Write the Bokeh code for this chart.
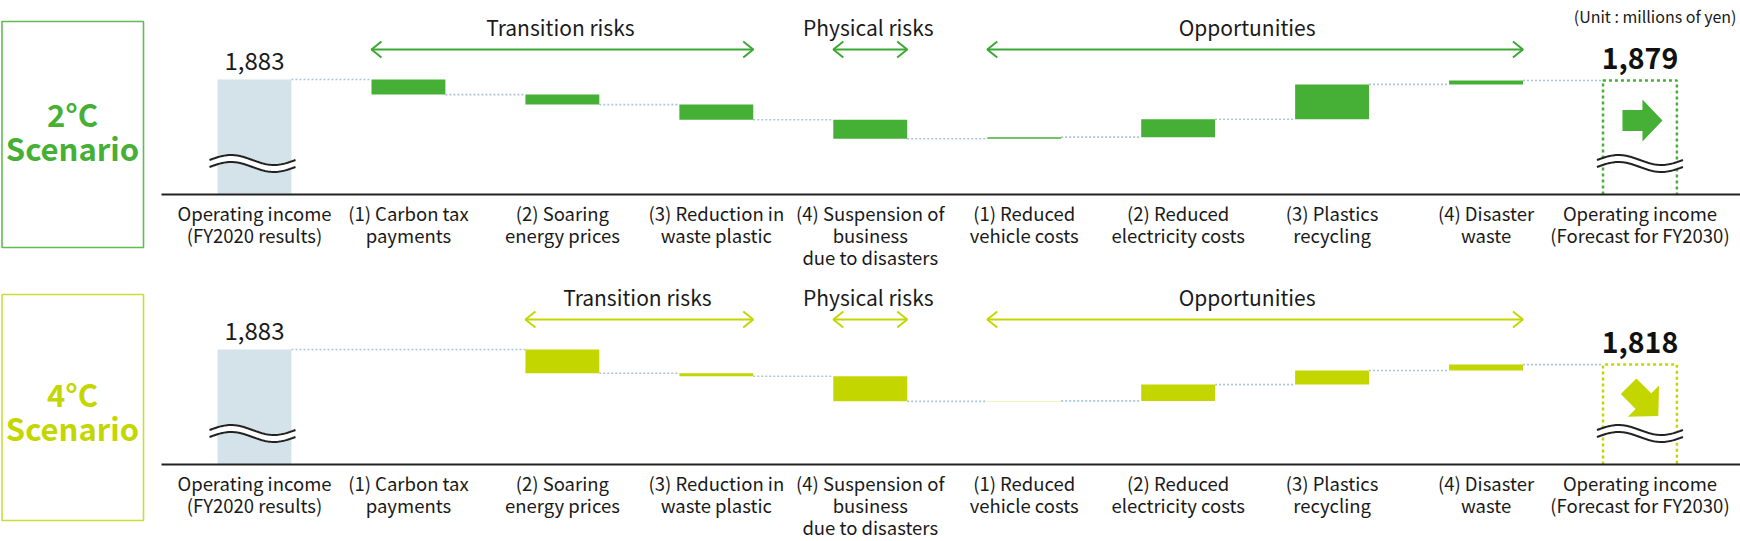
import numpy as np
from bokeh.plotting import figure
from bokeh.models import ColumnDataSource, Range1d
from bokeh.layouts import column
from bokeh.embed import file_html
from bokeh.resources import INLINE
from bokeh.core.properties import value

# ---------------- data ----------------
CATEGORIES = [
    "Operating income\n(FY2020 results)",
    "(1) Carbon tax\npayments",
    "(2) Soaring\nenergy prices",
    "(3) Reduction in\nwaste plastic",
    "(4) Suspension of\nbusiness\ndue to disasters",
    "(1) Reduced\nvehicle costs",
    "(2) Reduced\nelectricity costs",
    "(3) Plastics\nrecycling",
    "(4) Disaster\nwaste",
    "Operating income\n(Forecast for FY2030)",
]
START_VALUE = 1883
CHANGES_2C = [-65, -43, -65, -82, 7, 77, 150, 17]
CHANGES_4C = [0, -102, -13, -108, 2, 70, 61, 25]
FINAL_2C = 1879
FINAL_4C = 1818
GROUPS = [("Transition risks", 1, 3), ("Physical risks", 4, 4), ("Opportunities", 5, 8)]
SCENARIO_2C = ["2°C", "Scenario"]
SCENARIO_4C = ["4°C", "Scenario"]
UNIT_LABEL = "(Unit : millions of yen)"

# ---------------- style / layout ----------------
FONT = "Noto Sans CJK JP"
GREEN = "#45b035"
GREEN_LINE = "#3aa832"
GREEN_BOX = "#62bb55"
LIME = "#c4d600"
LIME_BOX = "#cbdc3a"
GRAY_BAR = "#d4e2ea"
CONNECT = "#a9c6de"
INK = "#1a1a1a"

W = 1740
H_TOP = 270
H_BOT = 271
PX_PER_CAT = 153.94      # pixels between category centres
X0_PX = 254              # pixel position of the first category centre
UPP = 4.3                # value units per pixel
BAR_W = 0.48
Y_TOP = START_VALUE + 79 * UPP   # value at the top edge of each panel


def X(px):
    return (px - X0_PX) / PX_PER_CAT


def Y(py):
    return Y_TOP - py * UPP


def dx(px):
    return px / PX_PER_CAT


def dy(px):
    return px * UPP


AXIS_Y = Y(194)


def add_wave(p, xc, yc):
    t = np.linspace(0, 1, 60)
    w = 86
    xs = xc + dx(-w / 2 + w * t)
    s = 5.0 * np.sin(2 * np.pi * t)
    up = yc + dy(3.5 + s)
    lo = yc + dy(-3.5 + s)
    p.patch(np.concatenate([xs, xs[::-1]]), np.concatenate([up + dy(1), lo[::-1] - dy(1)]),
            fill_color="white", line_color=None)
    p.line(xs, up, line_color="#222222", line_width=2)
    p.line(xs, lo, line_color="#222222", line_width=2)


def build_panel(height, changes, final, color, line_color, box_color, scen_lines, box_y, scen_y,
                show_unit, arrow_rot, arrow_scale, arrow_down_px, arrow_right_px):
    p = figure(width=W, height=height, x_range=Range1d(X(0), X(W)),
               y_range=Range1d(Y(height), Y(0)), toolbar_location=None, output_backend="svg",
               x_axis_location=None, y_axis_location=None, min_border=0)
    p.xgrid.visible = False
    p.ygrid.visible = False
    p.outline_line_color = None

    levels = [START_VALUE]
    for c in changes:
        levels.append(levels[-1] + c)
    n = len(CATEGORIES) - 1

    # connectors
    segs = []
    x0 = BAR_W / 2
    for i in range(1, len(CATEGORIES)):
        if 1 <= i <= len(changes) and changes[i - 1] == 0:
            continue
        segs.append((x0, i - BAR_W / 2, levels[i - 1]))
        x0 = i + BAR_W / 2
    p.segment(x0=[s[0] for s in segs], x1=[s[1] for s in segs],
              y0=[s[2] for s in segs], y1=[s[2] for s in segs],
              line_color=CONNECT, line_width=1.6, line_dash="2 2")

    # change bars
    src = ColumnDataSource(dict(
        x=[i + 1 for i in range(len(changes))],
        bottom=[min(levels[i], levels[i + 1]) for i in range(len(changes))],
        top=[max(levels[i], levels[i + 1]) for i in range(len(changes))],
    ))
    p.vbar(x="x", bottom="bottom", top="top", width=BAR_W, source=src,
           fill_color=color, line_color=None)

    # starting bar
    p.vbar(x=[0], bottom=[AXIS_Y], top=[START_VALUE], width=BAR_W,
           fill_color=GRAY_BAR, line_color=None)

    # final dotted box
    p.line([n - BAR_W / 2, n - BAR_W / 2, n + BAR_W / 2, n + BAR_W / 2],
           [AXIS_Y, final, final, AXIS_Y], line_color=color, line_width=2.5, line_dash="3 3")

    # waves (axis breaks)
    add_wave(p, 0 - dx(2), Y(163))
    add_wave(p, n, Y(163))

    # baseline (category axis line)
    p.segment(x0=[X(161)], x1=[X(W)], y0=[AXIS_Y], y1=[AXIS_Y], line_color="#222222", line_width=2)

    # category labels
    lx, ly, lt = [], [], []
    for i, lab in enumerate(CATEGORIES):
        for k, line in enumerate(lab.split("\n")):
            lx.append(i)
            ly.append(Y(212.5 + 22.0 * k))
            lt.append(line)
    p.text(x=lx, y=ly, text=lt, text_font=value(FONT), text_font_size="18.5px",
           text_color=INK, text_align="center", text_baseline="middle")

    # value labels
    p.text(x=[0], y=[START_VALUE + dy(19)], text=[f"{START_VALUE:,}"], text_font=value(FONT),
           text_font_size="24px", text_color=INK, text_align="center", text_baseline="middle")
    p.text(x=[n], y=[final + dy(22)], text=[f"{final:,}"], text_font=value(FONT),
           text_font_size="28.5px", text_font_style="bold", text_color="#111111",
           text_align="center", text_baseline="middle")

    # block arrow in the final box
    pts = np.array([(-20, 10.5), (0, 10.5), (0, 21), (20, 0), (0, -21), (0, -10.5), (-20, -10.5)]) * arrow_scale
    th = np.deg2rad(arrow_rot)
    rx = pts[:, 0] * np.cos(th) - pts[:, 1] * np.sin(th)
    ry = pts[:, 0] * np.sin(th) + pts[:, 1] * np.cos(th)
    p.patch(n + dx(arrow_right_px) + dx(rx), final - dy(arrow_down_px) + dy(ry),
            fill_color=color, line_color=None)

    # group headers
    ya = Y(49)
    for name, a, b in GROUPS:
        idx = [k for k in range(a, b + 1) if changes[k - 1] != 0]
        xl = idx[0] - BAR_W / 2
        xr = idx[-1] + BAR_W / 2
        p.segment(x0=[xl], x1=[xr], y0=[ya], y1=[ya], line_color=line_color, line_width=2)
        p.multi_line(xs=[[xl + dx(10), xl, xl + dx(10)], [xr - dx(10), xr, xr - dx(10)]],
                     ys=[[ya + dy(8), ya, ya - dy(8)], [ya + dy(8), ya, ya - dy(8)]],
                     line_color=line_color, line_width=2)
        shift = dx(-8) if name == "Opportunities" else dx(-2)
        p.text(x=[(xl + xr) / 2 + shift], y=[Y(26)], text=[name], text_font=value(FONT),
               text_font_size="21px", text_color=INK, text_align="center", text_baseline="middle")

    if show_unit:
        p.text(x=[X(1736)], y=[Y(15.5)], text=[UNIT_LABEL],
               text_font=value(FONT), text_font_size="16px", text_color=INK,
               text_align="right", text_baseline="middle")

    # scenario box
    p.quad(left=[X(1.5)], right=[X(143)], top=[Y(box_y[0])], bottom=[Y(box_y[1])],
           fill_color=None, line_color=box_color, line_width=1.6)
    p.text(x=[X(72), X(72)], y=[Y(scen_y[0]), Y(scen_y[1])], text=scen_lines,
           text_font=value(FONT), text_font_size="31px", text_font_style="bold",
           text_color=color, text_align="center", text_baseline="middle")
    return p


top = build_panel(H_TOP, CHANGES_2C, FINAL_2C, GREEN, GREEN_LINE, GREEN_BOX, SCENARIO_2C,
                  (21, 247), (113, 147), True, 0, 1.0, 40, 2.5)
bot = build_panel(H_BOT, CHANGES_4C, FINAL_4C, LIME, LIME, LIME_BOX, SCENARIO_4C,
                  (24, 250), (123, 157), False, -45, 1.05, 36.5, 3.5)

layout = column(top, bot)

with open("out.html", "w") as f:
    f.write(file_html(layout, INLINE))
